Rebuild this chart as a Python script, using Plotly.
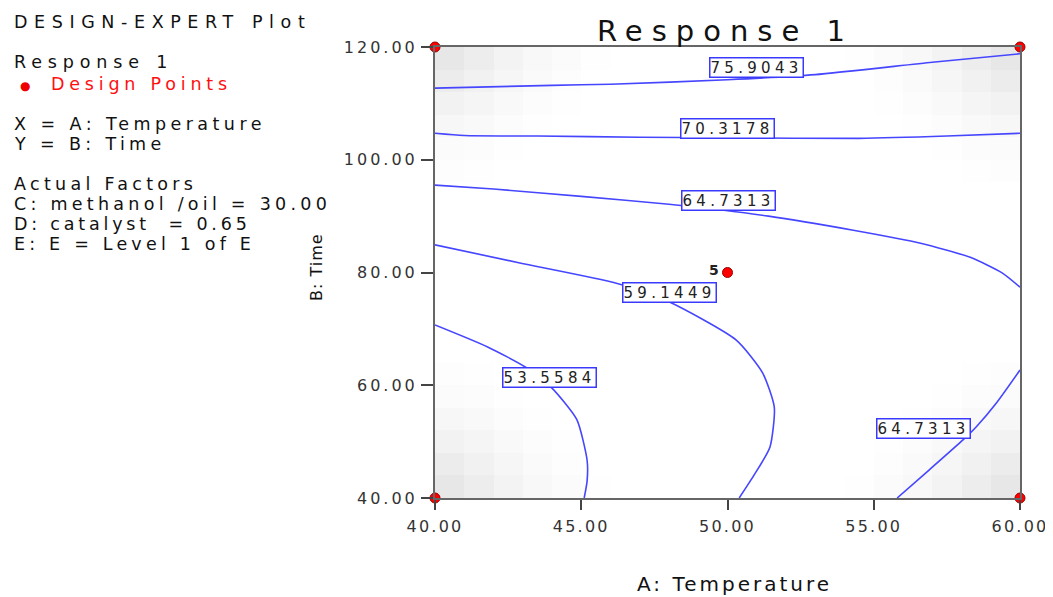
import numpy as np
import plotly.graph_objects as go

# ---- data ----
levels = ["75.9043", "70.3178", "64.7313", "59.1449", "53.5584", "64.7313"]

c1_x = [40, 44, 46, 50, 53, 57, 60]
c1_y = [112.7, 113.2, 113.4, 114.2, 115.1, 117.3, 118.8]

c2_x = [40, 41, 43.5, 47, 50, 54.5, 57.5, 60]
c2_y = [104.7, 104.3, 104.2, 104.0, 103.9, 103.8, 104.2, 104.7]

c3_x = [40, 42, 45, 48, 51.4, 54.3, 56.6, 58.3, 59.4, 60]
c3_y = [95.5, 94.8, 93.5, 92.1, 90.0, 87.5, 85.2, 82.7, 79.9, 77.4]

c4_x = [40, 42.9, 46.2, 48.0, 50.3, 51.2, 51.6, 51.45, 50.9, 50.4]
c4_y = [84.9, 81.7, 78.1, 74.8, 68.0, 62.2, 56.1, 49.0, 44.0, 40]

c5_x = [40, 41.8, 43.1, 44.0, 44.85, 45.2, 45.2, 45.1]
c5_y = [70.7, 66.8, 63.2, 59.5, 53.9, 46.7, 43.0, 40]

c6_x = [55.8, 56.9, 58.05, 58.5, 59.2, 60]
c6_y = [40, 45.0, 50.3, 52.6, 56.9, 62.7]

label_x = [51.0, 50.0, 50.05, 48.0, 43.9, 56.7]
label_y = [116.3, 105.6, 92.7, 76.5, 61.3, 52.4]

design_x = [40, 40, 60, 60, 50]
design_y = [40, 120, 40, 120, 80]

x_ticks = [40, 45, 50, 55, 60]
y_ticks = [40, 60, 80, 100, 120]

# corner shading of the background (grey depth, from the corner outwards)
corner_shade = [
    [24, 18, 12, 7, 4, 1],
    [19, 14, 9, 5, 2, 0],
    [13, 10, 6, 3, 1, 0],
    [8, 6, 3, 1, 0, 0],
    [4, 3, 1, 0, 0, 0],
    [2, 1, 0, 0, 0, 0],
]

# ---- build background grid ----
nx, ny = 20, 20
hx = [40.5 + i for i in range(nx)]
hy = [42 + 4 * j for j in range(ny)]
z = np.zeros((ny, nx))
cs = np.array(corner_shade, dtype=float)
k = cs.shape[0]
z[:k, :k] = np.maximum(z[:k, :k], cs)
z[:k, -k:] = np.maximum(z[:k, -k:], cs[:, ::-1])
z[-k:, :k] = np.maximum(z[-k:, :k], cs[::-1, :])
z[-k:, -k:] = np.maximum(z[-k:, -k:], cs[::-1, ::-1])


def sp(t, px):
    return f'<span style="letter-spacing:{px}px">{t}</span>'


fig = go.Figure()
fig.add_trace(go.Heatmap(x=hx, y=hy, z=z, zmin=0, zmax=35,
                         colorscale=[[0, "rgb(255,255,255)"], [1, "rgb(220,220,220)"]],
                         showscale=False, hoverinfo="skip"))

line_col = "#4646ff"
for xs, ys in [(c1_x, c1_y), (c2_x, c2_y), (c3_x, c3_y), (c4_x, c4_y), (c5_x, c5_y), (c6_x, c6_y)]:
    fig.add_trace(go.Scatter(x=xs, y=ys, mode="lines",
                             line=dict(color=line_col, width=1.6, shape="spline", smoothing=0.6),
                             hoverinfo="skip"))

fig.add_trace(go.Scatter(x=design_x, y=design_y, mode="markers", cliponaxis=False,
                         marker=dict(color="#ff0000", size=10, line=dict(color="#990000", width=1))))

font_main = "DejaVu Sans, Verdana, sans-serif"
annotations = []
for lx, ly, lt in zip(label_x, label_y, levels):
    annotations.append(dict(x=lx, y=ly, xref="x", yref="y", text=sp(lt, 4.3), showarrow=False,
                            font=dict(family=font_main, size=15, color="#222"),
                            bgcolor="white", bordercolor="#3a3aff", borderwidth=1.5, borderpad=0))
annotations.append(dict(x=50, y=80, xref="x", yref="y", text="<b>5</b>", showarrow=False,
                        xanchor="right", xshift=-7, yshift=3, font=dict(family=font_main, size=14, color="#222")))

# (page pixel x, page pixel y, text, colour, size, spacing)
page_texts = [
    (12, 22, "DESIGN-EXPERT Plot", "#111", 17.5, 6.6),
    (12, 62, "Response 1", "#111", 17.5, 5.85),
    (49, 84, "Design Points", "#ff1010", 17.5, 4.8),
    (12, 124, "X = A: Temperature", "#111", 17.5, 4.45),
    (12, 144, "Y = B: Time", "#111", 17.5, 4.35),
    (12, 184, "Actual Factors", "#111", 17.5, 4.3),
    (12, 204, "C: methanol /oil = 30.00", "#111", 17.5, 4.27),
    (12, 224, "D: catalyst  = 0.65", "#111", 17.5, 3.8),
    (12, 244, "E: E = Level 1 of E", "#111", 17.5, 4.2),
]
for px, py, t, c, s, ls in page_texts:
    annotations.append(dict(x=px, y=py, xref="paper", yref="paper", text=sp(t, ls), showarrow=False,
                            xanchor="left", yanchor="middle", font=dict(family=font_main, size=s, color=c)))
annotations.append(dict(x=25, y=86, xref="paper", yref="paper", text="●", showarrow=False,
                        xanchor="center", yanchor="middle", font=dict(family=font_main, size=12, color="#ee0000")))
annotations.append(dict(x=725, y=31, xref="paper", yref="paper", text=sp("Response 1", 9), showarrow=False,
                        xanchor="center", yanchor="middle", font=dict(family=font_main, size=29, color="#111")))
annotations.append(dict(x=734, y=584, xref="paper", yref="paper", text=sp("A: Temperature", 3), showarrow=False,
                        xanchor="center", yanchor="middle", font=dict(family=font_main, size=20, color="#111")))
annotations.append(dict(x=316, y=267, xref="paper", yref="paper", text=sp("B: Time", 1), showarrow=False,
                        textangle=-90, xanchor="center", yanchor="middle",
                        font=dict(family=font_main, size=16, color="#111")))

# page pixels -> paper fractions (plot area is 435..1020 x 47..498 on the page)
for a in annotations:
    if a.get("xref") == "paper":
        a["x"] = (a["x"] - 435) / (1020 - 435)
        a["y"] = (498 - a["y"]) / (498 - 47)

# the page body has an 8px margin, so the figure sits at (8, 8); keep it inside the window
fig.update_layout(
    width=1045, height=589,
    margin=dict(l=427, r=33, t=39, b=99, autoexpand=False),
    paper_bgcolor="white", plot_bgcolor="white",
    showlegend=False,
    annotations=annotations,
    xaxis=dict(range=[40, 60], tickvals=x_ticks, ticktext=[sp(f"{v:.2f}", 2.2) for v in x_ticks],
               automargin=False,
               showgrid=False, zeroline=False, showline=True, linecolor="#666", linewidth=2, mirror=True,
               ticks="outside", ticklen=10, tickcolor="#444", tickwidth=1.5, ticklabelstandoff=3,
               tickfont=dict(family=font_main, size=16, color="#333")),
    yaxis=dict(range=[40, 120], tickvals=y_ticks, ticktext=[sp(f"{v:.2f}", 3) for v in y_ticks],
               automargin=False,
               showgrid=False, zeroline=False, showline=True, linecolor="#666", linewidth=2, mirror=True,
               ticks="outside", ticklen=12, tickcolor="#444", tickwidth=1.5,
               tickfont=dict(family=font_main, size=16, color="#333")),
)

fig.write_html("out.html")
